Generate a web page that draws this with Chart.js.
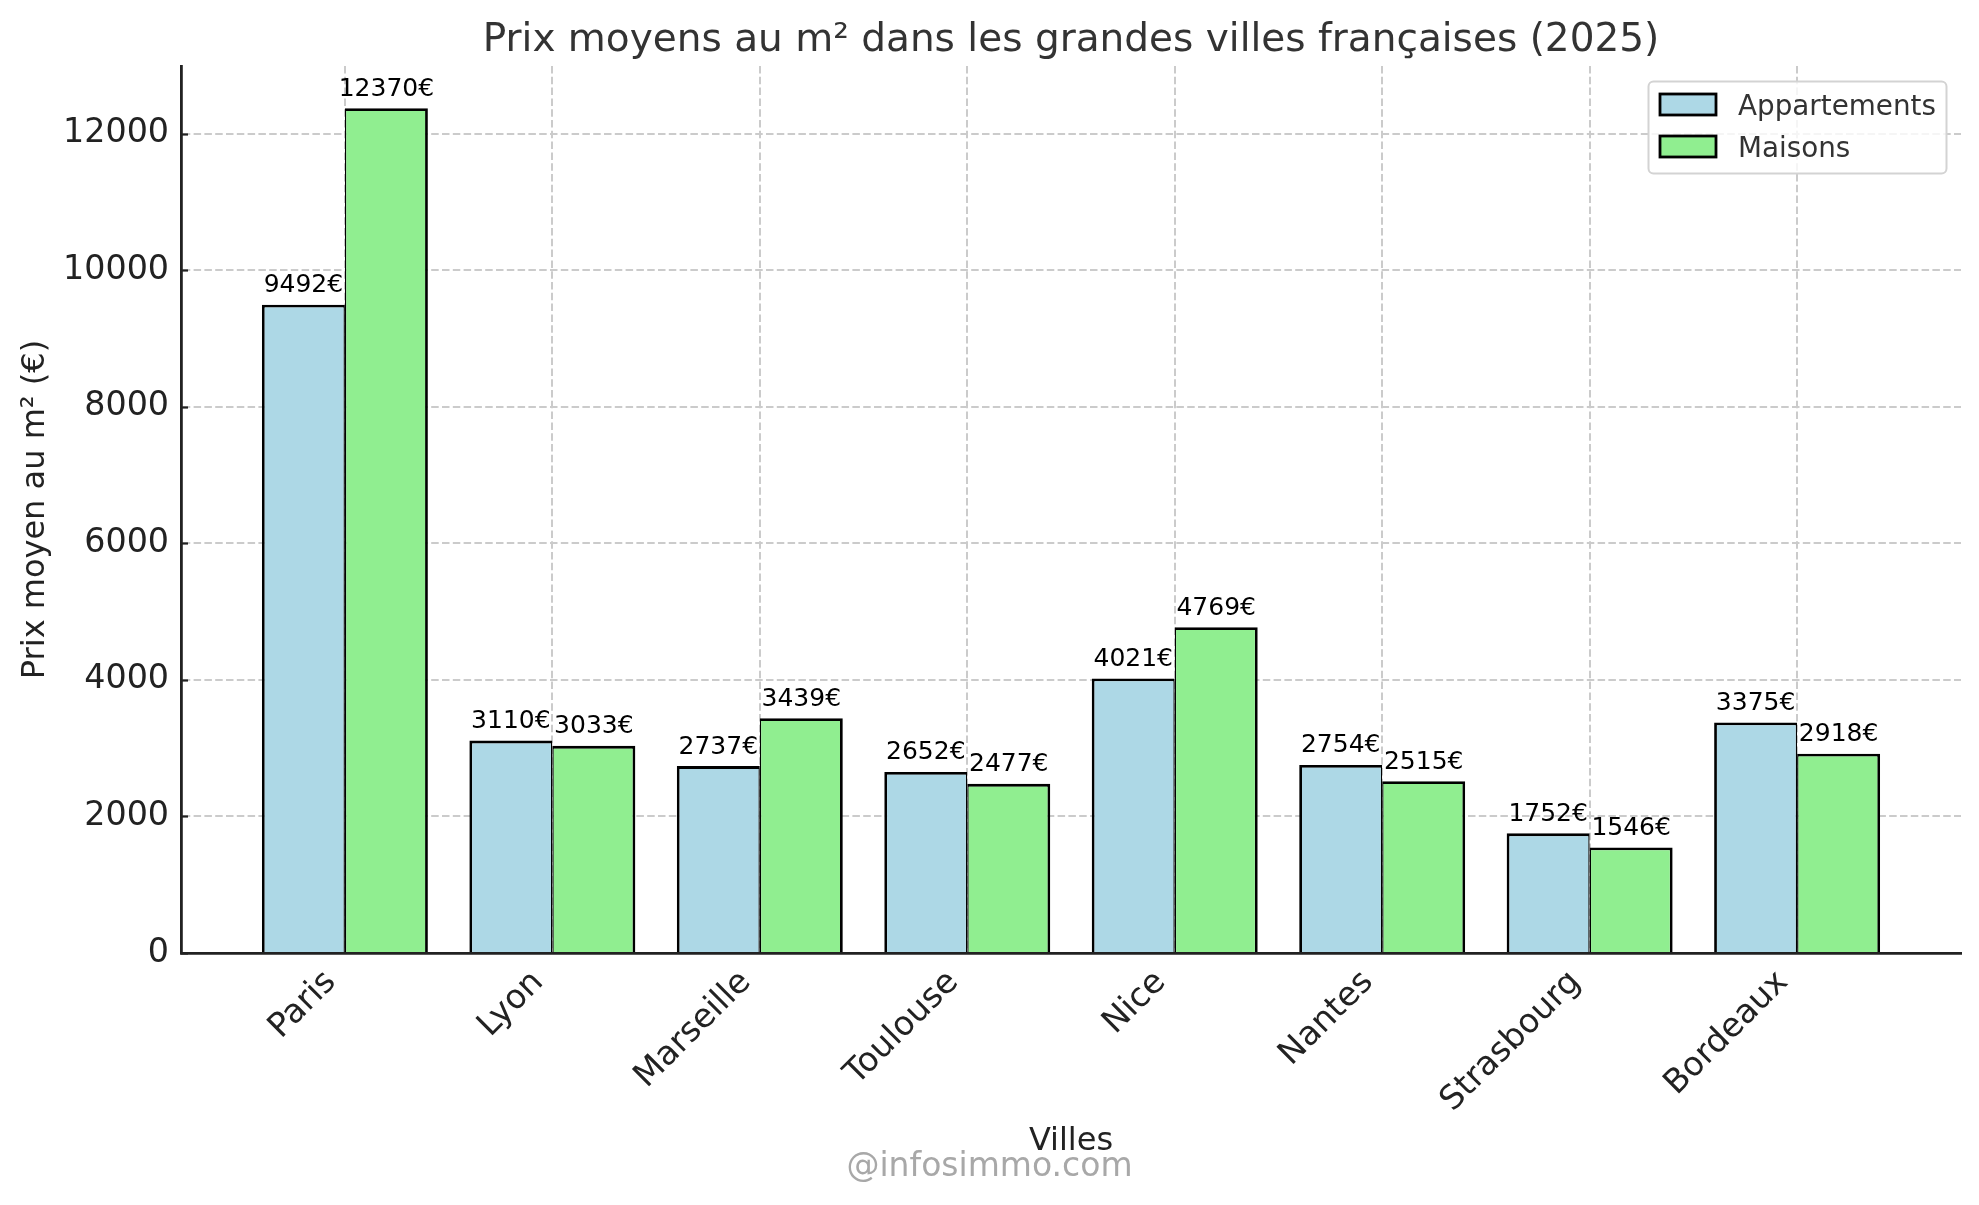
<!DOCTYPE html>
<html lang="fr">
<head>
<meta charset="utf-8">
<title>Prix moyens au m²</title>
<script src="https://cdn.jsdelivr.net/npm/chart.js@4.4.1/dist/chart.umd.min.js"></script>
<style>
  html, body { margin: 0; padding: 0; background: #fff; }
  canvas { display: block; }
</style>
</head>
<body>
<canvas id="prixChart" width="1979" height="1205"></canvas>
<script>
'use strict';

var villes = ['Paris', 'Lyon', 'Marseille', 'Toulouse', 'Nice', 'Nantes', 'Strasbourg', 'Bordeaux'];
var prixAppartements = [9492, 3110, 2737, 2652, 4021, 2754, 1752, 3375];
var prixMaisons = [12370, 3033, 3439, 2477, 4769, 2515, 1546, 2918];
var seriesLabels = ['Appartements', 'Maisons'];
var yTicks = [0, 2000, 4000, 6000, 8000, 10000, 12000];

var FONT = 'DejaVu Sans';
var BLUE = '#add8e6';
var GREEN = '#90ee90';

// matplotlib style limits: 5% margin on x, 5% headroom on y
var xMargin = 0.05 * (villes.length - 1 + 0.8);
var yMax = Math.max.apply(null, prixAppartements.concat(prixMaisons)) * 1.05;

Chart.defaults.font.family = FONT;

var decorPlugin = {
    id: 'decor',
    afterDatasetsDraw: function (chart) {
        var ctx = chart.ctx;
        ctx.save();
        ctx.font = '25px "' + FONT + '"';
        ctx.fillStyle = '#000';
        ctx.textAlign = 'center';
        ctx.textBaseline = 'alphabetic';
        chart.data.datasets.forEach(function (ds, d) {
            var meta = chart.getDatasetMeta(d);
            meta.data.forEach(function (bar, i) {
                ctx.fillText(ds.data[i].y + '€', bar.x, bar.y - 12.5);
            });
        });
        ctx.restore();
    },
    afterDraw: function (chart) {
        var ctx = chart.ctx;
        var area = chart.chartArea;
        var yScale = chart.scales.y;
        ctx.save();

        // title over the axes
        ctx.font = '39px "' + FONT + '"';
        ctx.fillStyle = '#333';
        ctx.textAlign = 'center';
        ctx.textBaseline = 'alphabetic';
        ctx.fillText('Prix moyens au m² dans les grandes villes françaises (2025)', (area.left + area.right) / 2, 51);

        // short inward ticks on the y axis
        ctx.strokeStyle = '#222';
        ctx.lineWidth = 2.2;
        yTicks.forEach(function (v) {
            var py = Math.round(yScale.getPixelForValue(v)) + 0.5;
            ctx.beginPath();
            ctx.moveTo(area.left, py);
            ctx.lineTo(area.left + 7, py);
            ctx.stroke();
        });

        // legend box, upper right
        ctx.beginPath();
        ctx.roundRect(1648.5, 81.5, 298, 92, 5);
        ctx.fillStyle = 'rgba(255,255,255,0.8)';
        ctx.fill();
        ctx.strokeStyle = '#d3d3d3';
        ctx.lineWidth = 2;
        ctx.stroke();

        ctx.font = '27.8px "' + FONT + '"';
        ctx.textAlign = 'left';
        chart.data.datasets.forEach(function (ds, d) {
            var top = 94 + d * 42;
            ctx.fillStyle = ds.backgroundColor;
            ctx.fillRect(1660, top, 56, 21);
            ctx.strokeStyle = '#000';
            ctx.lineWidth = 2.8;
            ctx.strokeRect(1660, top, 56, 21);
            ctx.fillStyle = '#333';
            ctx.fillText(ds.label, 1738, top + 20.5);
        });

        // watermark
        ctx.font = '33px "' + FONT + '"';
        ctx.fillStyle = '#a8a8a8';
        ctx.textAlign = 'center';
        ctx.fillText('@infosimmo.com', chart.width / 2, 1176);

        ctx.restore();
    }
};

var gridStyle = {
    display: true,
    drawTicks: false,
    offset: false,
    color: '#cbcbcb',
    lineWidth: 2
};

var ctx = document.getElementById('prixChart').getContext('2d');
var prixChart = new Chart(ctx, {
    type: 'bar',
    data: {
        datasets: [
            {
                label: seriesLabels[0],
                data: prixAppartements.map(function (v, i) { return { x: i, y: v }; }),
                backgroundColor: BLUE,
                borderColor: '#000',
                borderWidth: { top: 2.8, left: 2.8, right: 1.4, bottom: 0 },
                borderSkipped: false,
                categoryPercentage: 0.8,
                barPercentage: 1.0
            },
            {
                label: seriesLabels[1],
                data: prixMaisons.map(function (v, i) { return { x: i, y: v }; }),
                backgroundColor: GREEN,
                borderColor: '#000',
                borderWidth: { top: 2.8, left: 1.4, right: 2.8, bottom: 0 },
                borderSkipped: false,
                categoryPercentage: 0.8,
                barPercentage: 1.0
            }
        ]
    },
    options: {
        responsive: false,
        animation: false,
        devicePixelRatio: 1,
        layout: { padding: { top: 66, right: 18, left: 0, bottom: 0 } },
        plugins: {
            legend: { display: false },
            title: { display: false },
            tooltip: { enabled: false }
        },
        scales: {
            x: {
                type: 'linear',
                offset: false,
                min: -0.4 - xMargin,
                max: villes.length - 1 + 0.4 + xMargin,
                grid: gridStyle,
                border: { display: true, color: '#222', width: 2.8, dash: [7.5, 3.3] },
                afterBuildTicks: function (scale) {
                    scale.ticks = villes.map(function (v, i) { return { value: i }; });
                },
                afterFit: function (scale) { scale.height = 252; },
                ticks: {
                    autoSkip: false,
                    minRotation: 45,
                    maxRotation: 45,
                    padding: 10,
                    labelOffset: -14,
                    color: '#222',
                    font: { size: 33.3 },
                    callback: function (value) { return villes[value]; }
                },
                title: {
                    display: true,
                    text: 'Villes',
                    color: '#222',
                    font: { size: 32 },
                    padding: { top: 0, bottom: 44 }
                }
            },
            y: {
                type: 'linear',
                min: 0,
                max: yMax,
                grid: gridStyle,
                border: { display: true, color: '#222', width: 2.8, dash: [7.5, 3.3] },
                afterBuildTicks: function (scale) {
                    scale.ticks = yTicks.map(function (v) { return { value: v }; });
                },
                afterFit: function (scale) { scale.width = 181; },
                ticks: {
                    padding: 12,
                    color: '#222',
                    font: { size: 33.3 },
                    callback: function (value) { return String(value); }
                },
                title: {
                    display: true,
                    text: 'Prix moyen au m² (€)',
                    color: '#222',
                    font: { size: 32 },
                    padding: { top: 16, bottom: 0 }
                }
            }
        }
    },
    plugins: [decorPlugin]
});
</script>
</body>
</html>
